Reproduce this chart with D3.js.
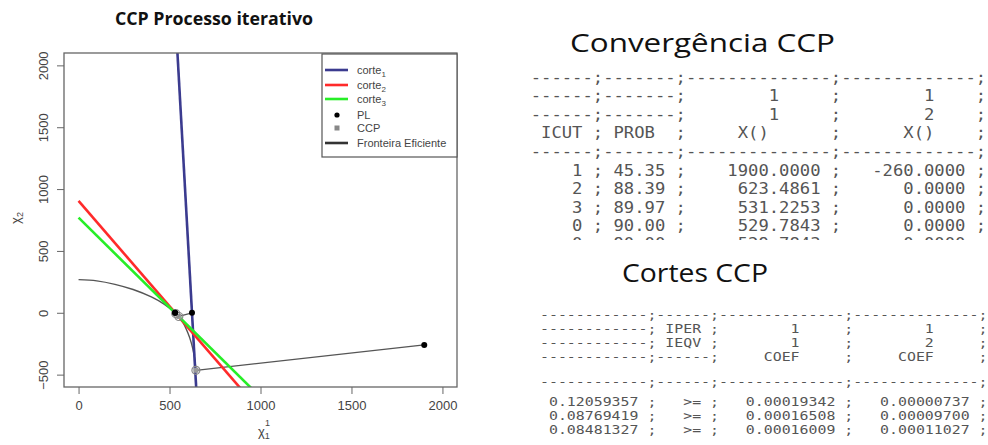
<!DOCTYPE html>
<html>
<head>
<meta charset="utf-8">
<script src="https://cdn.jsdelivr.net/npm/d3@7"></script>
<style>
body { margin: 0; background: #fff; }
svg text { white-space: pre; }
</style>
</head>
<body>
<svg id="fig" width="988" height="445"></svg>
<script>
// ---- data ----
var xTicks = [0, 500, 1000, 1500, 2000];
var yTicks = [-500, 0, 500, 1000, 1500, 2000];

// PL iterations (Convergência CCP table)
var icut = ["1", "2", "3", "0", "0"];
var prob = [45.35, 88.39, 89.97, 90.00, 90.00];
var plX1 = [1900.0000, 623.4861, 531.2253, 529.7843, 529.7843];
var plX2 = [-260.0000, 0.0000, 0.0000, 0.0000, 0.0000];
var nPl = 4; // last table row is cut off in the picture

// CCP points
var ccpX1 = [645, 551, 534];
var ccpX2 = [-465, -30, -6];

// efficient frontier
var frontX1 = [0, 100, 200, 300, 400, 470, 530, 570, 600, 620, 635, 643, 646];
var frontX2 = [268, 258, 230, 188, 128, 70, 0, -70, -160, -245, -340, -430, -470];

// cuts (Cortes CCP table): coef1*x1 + coef2*x2 >= rhs
var cutRhs = [0.12059357, 0.08769419, 0.08481327];
var cutCoef1 = [0.00019342, 0.00016508, 0.00016009];
var cutCoef2 = [0.00000737, 0.00009700, 0.00011027];
var cutColors = ["#3b3b8f", "#ff2a2a", "#27ee27"];
var iper = ["1", "1"];
var ieqv = ["1", "2"];

var legendLabels = ["corte", "corte", "corte", "PL", "CCP", "Fronteira Eficiente"];
var legendSubs = ["1", "2", "3", "", "", ""];

// ---- chart ----
var svg = d3.select("#fig");
var plot = { left: 64, right: 457, top: 53, bottom: 387 };

var x = d3.scaleLinear().domain([-80, 2080]).range([plot.left, plot.right]);
var y = d3.scaleLinear().domain([-600, 2100]).range([plot.bottom, plot.top]);

svg.append("text")
    .attr("x", 214).attr("y", 25)
    .attr("text-anchor", "middle")
    .attr("textLength", 198).attr("lengthAdjust", "spacingAndGlyphs")
    .style("font-family", "'Open Sans', sans-serif")
    .style("font-weight", "bold").style("font-size", "18px")
    .style("fill", "#111")
    .text("CCP Processo iterativo");

svg.append("clipPath").attr("id", "plotClip")
  .append("rect")
    .attr("x", plot.left).attr("y", plot.top)
    .attr("width", plot.right - plot.left)
    .attr("height", plot.bottom - plot.top);

var g = svg.append("g").attr("clip-path", "url(#plotClip)");

var line = d3.line().x(function (d) { return x(d[0]); }).y(function (d) { return y(d[1]); });

// frontier
g.append("path")
    .datum(d3.zip(frontX1, frontX2))
    .attr("d", line.curve(d3.curveCatmullRom))
    .attr("fill", "none").attr("stroke", "#555").attr("stroke-width", 1.4);
line.curve(d3.curveLinear);

// iteration path PL_k -> CCP_k
ccpX1.forEach(function (c, i) {
    g.append("path")
        .datum([[plX1[i], plX2[i]], [ccpX1[i], ccpX2[i]]])
        .attr("d", line)
        .attr("fill", "none").attr("stroke", "#555").attr("stroke-width", 1.3);
});

// cuts
cutRhs.forEach(function (r, i) {
    var pts = [0, 2000].map(function (a) {
        return [a, (r - cutCoef1[i] * a) / cutCoef2[i]];
    });
    g.append("path")
        .datum(pts)
        .attr("d", line)
        .attr("fill", "none").attr("stroke", cutColors[i]).attr("stroke-width", 2.6);
});

// CCP points
ccpX1.forEach(function (c, i) {
    g.append("circle")
        .attr("cx", x(c)).attr("cy", y(ccpX2[i])).attr("r", 4)
        .attr("fill", "none").attr("stroke", "#888").attr("stroke-width", 1.2);
    g.append("rect")
        .attr("x", x(c) - 2.5).attr("y", y(ccpX2[i]) - 2.5)
        .attr("width", 5).attr("height", 5).attr("fill", "#999");
});

// PL points
g.selectAll(".pl")
    .data(d3.range(nPl))
    .enter().append("circle")
    .attr("class", "pl")
    .attr("cx", function (i) { return x(plX1[i]); })
    .attr("cy", function (i) { return y(plX2[i]); })
    .attr("r", 3).attr("fill", "#000");

// axes
var fmt = d3.format("d");
var xAxis = svg.append("g")
    .attr("transform", "translate(0," + plot.bottom + ")")
    .call(d3.axisBottom(x).tickValues(xTicks).tickFormat(fmt).tickSize(7).tickPadding(7));
var yAxis = svg.append("g")
    .attr("transform", "translate(" + plot.left + ",0)")
    .call(d3.axisLeft(y).tickValues(yTicks).tickFormat(fmt).tickSize(7));
yAxis.selectAll(".tick text")
    .attr("transform", "rotate(-90)")
    .attr("x", 0).attr("y", -16).attr("dy", 0)
    .style("text-anchor", "middle");
[xAxis, yAxis].forEach(function (ax) {
    ax.select(".domain").remove();
    ax.selectAll(".tick line").attr("stroke", "#666");
    ax.selectAll(".tick text")
        .style("font-family", "'Liberation Sans', Arial, sans-serif")
        .style("font-size", "13px").style("fill", "#444");
});

svg.append("rect")
    .attr("x", plot.left).attr("y", plot.top)
    .attr("width", plot.right - plot.left).attr("height", plot.bottom - plot.top)
    .attr("fill", "none").attr("stroke", "#666").attr("stroke-width", 1.3);

// axis labels
var lab = svg.append("text")
    .attr("x", 258).attr("y", 436)
    .style("font-family", "'Liberation Sans', Arial, sans-serif")
    .style("font-size", "13px").style("fill", "#444")
    .text("χ");
lab.append("tspan").attr("dy", 3).style("font-size", "9px").text("1");
svg.append("text")
    .attr("x", 265).attr("y", 426)
    .style("font-family", "'Liberation Sans', Arial, sans-serif")
    .style("font-size", "9px").style("fill", "#444")
    .text("1");
var ylab = svg.append("text")
    .attr("transform", "translate(20,218) rotate(-90)")
    .attr("text-anchor", "middle")
    .style("font-family", "'Liberation Sans', Arial, sans-serif")
    .style("font-size", "13px").style("fill", "#444")
    .text("χ");
ylab.append("tspan").attr("dy", 3).style("font-size", "9px").text("2");

// legend
var leg = svg.append("g");
leg.append("rect")
    .attr("x", 322).attr("y", plot.top + 1)
    .attr("width", plot.right - 322).attr("height", 103)
    .attr("fill", "#fff").attr("stroke", "#555").attr("stroke-width", 1.2);
var legY = [70, 85, 99, 115, 128, 143];
legendLabels.forEach(function (l, i) {
    var yy = legY[i];
    if (i < 3 || i === 5) {
        leg.append("line")
            .attr("x1", 325).attr("x2", 348).attr("y1", yy).attr("y2", yy)
            .attr("stroke", i < 3 ? cutColors[i] : "#333").attr("stroke-width", 2.6);
    } else if (i === 3) {
        leg.append("circle").attr("cx", 337).attr("cy", yy).attr("r", 2.6).attr("fill", "#000");
    } else {
        leg.append("rect").attr("x", 334.5).attr("y", yy - 2.5)
            .attr("width", 5).attr("height", 5).attr("fill", "#888");
    }
    var t = leg.append("text")
        .attr("x", 357).attr("y", yy + 4)
        .style("font-family", "'Liberation Sans', Arial, sans-serif")
        .style("font-size", "11px").style("fill", "#444")
        .text(l);
    if (legendSubs[i]) {
        t.append("tspan").attr("dy", 3).style("font-size", "8px").text(legendSubs[i]);
    }
});

// ---- tables ----
function dash(n) { return "-".repeat(n); }
function at(s, pos, n) { return (" ".repeat(pos) + s).padEnd(n); }
function row(cells) { return cells.join(";") + ";"; }

function drawTable(rows, x0, charW, fontSize, ys, clipY) {
    var tg = svg.append("g");
    if (clipY) {
        var id = "clip" + Math.round(x0);
        svg.append("clipPath").attr("id", id)
          .append("rect").attr("x", 0).attr("y", 0).attr("width", 988).attr("height", clipY);
        tg.attr("clip-path", "url(#" + id + ")");
    }
    tg.selectAll("text")
        .data(rows)
        .enter().append("text")
        .attr("x", x0)
        .attr("y", function (d, i) { return ys[i] + 0.34 * fontSize; })
        .attr("textLength", function (d) { return d.length * charW; })
        .attr("lengthAdjust", "spacingAndGlyphs")
        .style("font-family", "'DejaVu Sans Mono', monospace")
        .style("font-size", fontSize + "px")
        .style("fill", "#555")
        .text(function (d) { return d; });
}

svg.append("text")
    .attr("x", 570).attr("y", 52)
    .attr("textLength", 265).attr("lengthAdjust", "spacingAndGlyphs")
    .style("font-family", "'Open Sans', sans-serif")
    .style("font-size", "26px").style("fill", "#111")
    .text("Convergência CCP");

var t1 = [
    row([dash(6), dash(7), dash(14), dash(13)]),
    row([dash(6), dash(7), at("1", 8, 14), at("1", 8, 13)]),
    row([dash(6), dash(7), at("1", 8, 14), at("2", 8, 13)]),
    row([at("ICUT", 1, 6), at("PROB", 1, 7), at("X()", 5, 14), at("X()", 6, 13)]),
    row([dash(6), dash(7), dash(14), dash(13)])
];
icut.forEach(function (c, i) {
    t1.push(row([
        c.padStart(5) + " ",
        " " + prob[i].toFixed(2).padStart(5) + " ",
        plX1[i].toFixed(4).padStart(13) + " ",
        plX2[i].toFixed(4).padStart(12) + " "
    ]));
});
drawTable(t1, 530.7, 10.35, 16, [78, 96, 115, 133, 152, 171, 189, 208, 226, 244], 240);

svg.append("text")
    .attr("x", 622).attr("y", 282)
    .attr("textLength", 146).attr("lengthAdjust", "spacingAndGlyphs")
    .style("font-family", "'Open Sans', sans-serif")
    .style("font-size", "26px").style("fill", "#111")
    .text("Cortes CCP");

var t2 = [
    row([dash(12), dash(6), dash(14), dash(14)]),
    row([dash(12), " IPER ", at(iper[0], 8, 14), at(iper[1], 8, 14)]),
    row([dash(12), " IEQV ", at(ieqv[0], 8, 14), at(ieqv[1], 8, 14)]),
    row([dash(12), dash(6), at("COEF", 5, 14), at("COEF", 5, 14)]),
    row([dash(12), dash(6), dash(14), dash(14)])
];
cutRhs.forEach(function (r, i) {
    t2.push(row([
        " " + r.toFixed(8) + " ",
        "   >= ",
        "   " + cutCoef1[i].toFixed(8) + " ",
        "   " + cutCoef2[i].toFixed(8) + " "
    ]));
});
drawTable(t2, 540, 8.95, 13, [315, 329, 343, 357, 382, 402, 416, 430]);
</script>
</body>
</html>
